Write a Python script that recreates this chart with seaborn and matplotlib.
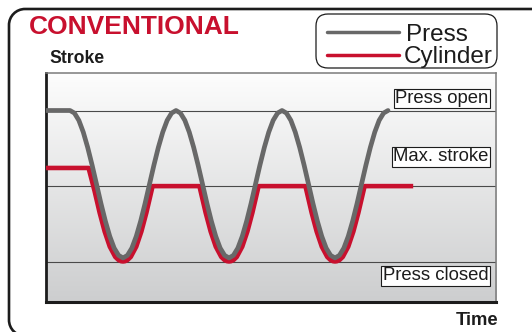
import numpy as np
import pandas as pd
import seaborn as sns
import matplotlib
matplotlib.use("Agg")
import matplotlib.pyplot as plt
import matplotlib.transforms as mtransforms
from matplotlib.patches import FancyBboxPatch, PathPatch
from matplotlib.path import Path
from matplotlib.lines import Line2D
from matplotlib.colors import LinearSegmentedColormap

# ---- data -------------------------------------------------------------
# Press stroke: flat at "open", then three full closing cycles
press_time = [0.45] + list(range(6, 79))
press_stroke = [
    100,
    100, 98.3, 93.5, 85.7, 75.6, 63.9, 51.3, 38.6, 26.9, 16.8, 9.0, 4.2,
    2.5, 4.2, 9.0, 16.8, 26.9, 38.6, 51.3, 63.9, 75.6, 85.7, 93.5, 98.3,
    100, 98.3, 93.5, 85.7, 75.6, 63.9, 51.3, 38.6, 26.9, 16.8, 9.0, 4.2,
    2.5, 4.2, 9.0, 16.8, 26.9, 38.6, 51.3, 63.9, 75.6, 85.7, 93.5, 98.3,
    100, 98.3, 93.5, 85.7, 75.6, 63.9, 51.3, 38.6, 26.9, 16.8, 9.0, 4.2,
    2.5, 4.2, 9.0, 16.8, 26.9, 38.6, 51.3, 63.9, 75.6, 85.7, 93.5, 98.3,
    100,
]

# Cylinder stroke: starts above max. stroke, then returns to max. stroke
cyl_time = [
    0.45, 10.2, 11.57, 12.7, 13.84, 15.0, 16.24, 17.0, 17.57, 18.0,
    18.43, 19.0, 19.76, 21.0, 22.16, 23.3, 24.43, 24.7,
    35.3, 35.57, 36.7, 37.84, 39.0, 40.24, 41.0, 41.57, 42.0,
    42.43, 43.0, 43.76, 45.0, 46.16, 47.3, 48.43, 48.7,
    59.3, 59.57, 60.7, 61.84, 63.0, 64.24, 65.0, 65.57, 66.0,
    66.43, 67.0, 67.76, 69.0, 70.16, 71.3, 72.43, 72.7,
    83.7,
]
cyl_stroke = [
    62, 62, 46.6, 32.5, 20.0, 10.0, 3.2, 1.1, 0.35, 0.2,
    0.35, 1.1, 3.2, 10.0, 20.0, 32.5, 46.6, 50,
    50, 46.6, 32.5, 20.0, 10.0, 3.2, 1.1, 0.35, 0.2,
    0.35, 1.1, 3.2, 10.0, 20.0, 32.5, 46.6, 50,
    50, 46.6, 32.5, 20.0, 10.0, 3.2, 1.1, 0.35, 0.2,
    0.35, 1.1, 3.2, 10.0, 20.0, 32.5, 46.6, 50,
    50,
]

level_names = ["Press open", "Max. stroke", "Press closed"]
level_values = [100, 50, 0]
series_names = ["Press", "Cylinder"]

RED = "#c8102e"
GREY = "#686868"
INK = "#1c1c1c"

# ---- figure -------------------------------------------------------------
sns.set_style("white")
plt.rcParams["font.family"] = ["Liberation Sans", "DejaVu Sans"]

W, H = 532, 332
fig = plt.figure(figsize=(W / 100, H / 100), dpi=100)
pix = mtransforms.Affine2D().scale(1, -1).translate(0, H)  # top-down pixels

# outer rounded frame, open towards the right and bottom edge
r, k = 16, 16 * 0.5523
x0, y0, y1, x1 = 9, 9, 336, 560
frame_path = Path(
    [(x1, y0), (x0 + r, y0), (x0 + r - k, y0), (x0, y0 + r - k), (x0, y0 + r),
     (x0, y1 - r), (x0, y1 - r + k), (x0 + r - k, y1), (x0 + r, y1), (x1, y1)],
    [Path.MOVETO, Path.LINETO, Path.CURVE4, Path.CURVE4, Path.CURVE4,
     Path.LINETO, Path.CURVE4, Path.CURVE4, Path.CURVE4, Path.LINETO],
)
fig.add_artist(PathPatch(frame_path, transform=pix, fill=False, ec=INK, lw=1.9))

ax = fig.add_axes([45.5 / W, 1 - 301.5 / H, (496 - 45.5) / W, (301.5 - 73) / H])

# vertical grey gradient behind the plot
grad = np.linspace(0, 1, 256).reshape(-1, 1)
cmap = LinearSegmentedColormap.from_list("bg", ["#fdfdfd", "#cdcecf"])
ax.imshow(grad, extent=(0, 1, 0, 1), transform=ax.transAxes, aspect="auto",
          cmap=cmap, origin="upper", zorder=0)

for v in level_values:
    ax.axhline(v, color="#4a4a4a", lw=0.8, zorder=1)

press_df = pd.DataFrame({"time": press_time, "stroke": press_stroke})
cyl_df = pd.DataFrame({"time": cyl_time, "stroke": cyl_stroke})

sns.lineplot(data=cyl_df, x="time", y="stroke", ax=ax, color=RED, lw=3.3,
             estimator=None, sort=False, zorder=3,
             solid_joinstyle="round", solid_capstyle="butt")
sns.lineplot(data=press_df, x="time", y="stroke", ax=ax, color=GREY, lw=3.4,
             estimator=None, sort=False, zorder=4,
             solid_joinstyle="round", solid_capstyle="round")

ax.set_xlim(0.45, 102.45)
ax.set_ylim(-26.3, 124.8)
ax.set_xticks([])
ax.set_yticks([])
ax.set_xlabel("")
ax.set_ylabel("")

for side in ("top", "right"):
    ax.spines[side].set_color("#7a7a7a")
    ax.spines[side].set_linewidth(1.1)
ax.spines["left"].set_color(INK)
ax.spines["left"].set_linewidth(2.0)
ax.spines["bottom"].set_color(INK)
ax.spines["bottom"].set_linewidth(2.2)

# boxed level labels at the right edge
label_offsets = [5.4, 18.0, -13.2]
for name, v, dy in zip(level_names, level_values, label_offsets):
    ax.annotate(name, xy=(1, v), xycoords=ax.get_yaxis_transform(),
                xytext=(-5.4, dy), textcoords="offset points",
                ha="right", va="baseline", fontsize=13.3, color=INK, zorder=6,
                bbox=dict(boxstyle="square,pad=0.08", fc="white", ec=INK, lw=0.8))

# titles
fig.text(29, 34, "CONVENTIONAL", transform=pix, fontsize=19, weight="bold",
         color=RED, ha="left", va="baseline")
fig.text(49, 63, "Stroke", transform=pix, fontsize=12.7, weight="bold",
         color=INK, ha="left", va="baseline")
fig.text(498, 325, "Time", transform=pix, fontsize=13.2, weight="bold",
         color=INK, ha="right", va="baseline")

# legend
leg_box = FancyBboxPatch((316, 14), 181, 54, boxstyle="round,pad=0,rounding_size=12",
                         transform=pix, fill=False, ec=INK, lw=0.9)
fig.add_artist(leg_box)
for name, col, y_line, y_text, x_text in zip(series_names, [GREY, RED],
                                              [32, 55], [41, 63], [406, 404]):
    fig.add_artist(Line2D([327, 399], [y_line, y_line], transform=pix,
                          color=col, lw=2.5))
    fig.text(x_text, y_text, name, transform=pix, fontsize=17.5,
             color=INK, ha="left", va="baseline")

fig.savefig("out.png", dpi=100)
